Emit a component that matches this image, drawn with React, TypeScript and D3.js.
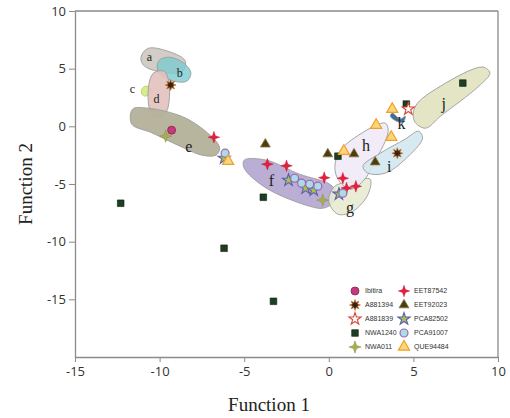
import React, { useEffect, useRef } from "react";
import * as d3 from "d3";

// series values: [Function 1, Function 2]
const ibitira = [[-9.29, -0.33]];
const a881394 = [[-9.35, 3.58], [4.05, -2.33]];
const a881839 = [[4.7, 1.5]];
const nwa1240 = [[-12.3, -6.67], [-6.19, -10.57], [-3.27, -15.17], [-3.87, -6.15], [0.54, -2.59], [4.58, 1.93], [7.92, 3.75]];
const nwa011 = [[-9.64, -0.85], [-0.36, -6.4]];
const eet87542 = [[-6.79, -0.94], [-3.63, -3.28], [-2.5, -3.42], [-0.27, -4.45], [0.83, -4.5], [1.05, -5.35], [1.6, -5.2]];
const eet92023 = [[-3.75, -1.55], [-0.06, -2.4], [1.49, -2.4], [2.74, -3.1]];
const pca82502 = [[-6.19, -2.76], [-2.38, -4.67], [-1.37, -5.36], [-0.89, -5.53], [0.6, -5.88]];
const pca91007 = [[-6.13, -2.33], [-2.02, -4.5], [-1.61, -4.93], [-1.13, -5.02], [-0.65, -5.19], [0.83, -5.8]];
const que94484 = [[-5.95, -3.02], [0.89, -2.15], [2.8, 0.1], [3.69, -0.94], [3.75, 1.49]];

// group outlines
const regionA = [[-11.1, 6.0], [-10.7, 6.75], [-9.7, 6.6], [-8.5, 5.7], [-8.65, 4.75], [-10.06, 4.75], [-10.95, 5.3]];
const regionB = [[-10.06, 5.66], [-9.46, 6.0], [-8.57, 5.49], [-8.15, 4.62], [-8.39, 3.92], [-9.17, 3.92], [-10.06, 4.62]];
const regionC = [[-11.01, 3.32], [-10.77, 3.49], [-10.54, 3.23], [-10.6, 2.8], [-10.89, 2.62], [-11.07, 2.88]];
const regionD = [[-10.36, 4.62], [-9.76, 4.79], [-9.46, 3.92], [-9.58, 1.32], [-10.06, 0.8], [-10.54, 1.32], [-10.65, 3.49]];
const regionE = [[-11.6, 1.49], [-10.83, 1.6], [-8.45, 0.71], [-6.67, -1.28], [-6.45, -1.95], [-6.67, -2.5], [-7.5, -2.5], [-8.45, -1.95], [-10.48, -0.55], [-11.65, 0.2]];
const regionF = [[-5.0, -2.93], [-3.69, -2.93], [-1.73, -4.15], [0.06, -5.02], [0.48, -5.8], [0.24, -6.67], [-0.36, -7.1], [-1.13, -6.93], [-3.69, -5.36], [-5.0, -3.63]];
const regionG = [[0.36, -5.19], [1.55, -4.76], [2.44, -4.58], [2.32, -5.89], [1.43, -7.36], [0.54, -7.62], [0.0, -6.49]];
const regionH = [[0.65, -2.15], [1.85, -0.68], [3.33, 0.28], [3.51, -0.42], [2.74, -3.02], [2.02, -4.76], [1.25, -5.45], [0.54, -4.58], [0.36, -3.45]];
const regionI = [[2.02, -3.45], [3.04, -2.33], [4.52, -1.11], [5.3, -0.42], [5.54, -1.02], [4.52, -2.85], [3.33, -4.06], [2.32, -4.06]];
const regionJ = [[5.12, 1.75], [6.61, 3.49], [9.11, 5.14], [9.52, 4.62], [8.87, 3.49], [6.61, 0.89], [5.71, -0.16], [5.06, 0.45]];
const regionK = [[3.75, 1.15], [4.23, 0.63], [4.52, 0.89], [4.4, 0.37], [3.99, 0.45], [3.63, 0.89]];

const regionNames = ["a", "b", "c", "d", "e", "f", "g", "h", "i", "j", "k"];
const regionLabelPos = [[-10.6, 5.9], [-8.81, 4.5], [-11.61, 3.14], [-10.18, 2.27], [-8.27, -1.9], [-3.39, -4.84], [1.25, -7.19], [2.2, -1.8], [3.57, -3.63], [6.79, 1.84], [4.29, 0.1]];

const xTicks = [-15, -10, -5, 0, 5, 10];
const yTicks = [-15, -10, -5, 0, 5, 10];

const star4 = {
  draw(ctx: any, size: number) {
    const r = Math.sqrt(size);
    for (let i = 0; i < 8; i++) {
      const a = (i * Math.PI) / 4 - Math.PI / 2;
      const rr = i % 2 ? r * 0.36 : r;
      if (i === 0) ctx.moveTo(rr * Math.cos(a), rr * Math.sin(a));
      else ctx.lineTo(rr * Math.cos(a), rr * Math.sin(a));
    }
    ctx.closePath();
  },
};

const burst8 = {
  draw(ctx: any, size: number) {
    const r = Math.sqrt(size);
    for (let i = 0; i < 16; i++) {
      const a = (i * Math.PI) / 8 - Math.PI / 2;
      const rr = i % 2 ? r * 0.5 : r;
      if (i === 0) ctx.moveTo(rr * Math.cos(a), rr * Math.sin(a));
      else ctx.lineTo(rr * Math.cos(a), rr * Math.sin(a));
    }
    ctx.closePath();
  },
};

export default function App() {
  const ref = useRef<SVGSVGElement>(null);

  useEffect(() => {
    const svg = d3.select(ref.current);
    svg.selectAll("*").remove();

    const x = d3.scaleLinear().domain([-15, 10]).range([75, 498]);
    const y = d3.scaleLinear().domain([-20, 10]).range([357, 11]);

    const regions = [
      { pts: regionA, fill: "#cdc9c1", op: 0.9 },
      { pts: regionB, fill: "#7ccbd0", op: 0.8 },
      { pts: regionC, fill: "#d6ec8e", op: 1 },
      { pts: regionD, fill: "#e3c1bc", op: 0.9 },
      { pts: regionE, fill: "#b3b199", op: 0.95 },
      { pts: regionF, fill: "#b2a5d0", op: 0.9 },
      { pts: regionG, fill: "#e8ebd2", op: 0.9 },
      { pts: regionH, fill: "#efeaf6", op: 0.9 },
      { pts: regionI, fill: "#d3e8ef", op: 0.9 },
      { pts: regionJ, fill: "#e2e4c2", op: 0.95 },
      { pts: regionK, fill: "#3d6c9c", op: 1 },
    ];

    const line = d3.line<number[]>()
      .x(d => x(d[0]))
      .y(d => y(d[1]))
      .curve(d3.curveCatmullRomClosed.alpha(0.5));

    svg.append("rect").attr("width", 510).attr("height", 418).attr("fill", "white");

    svg.selectAll("path.region")
      .data(regions)
      .enter()
      .append("path")
      .attr("class", "region")
      .attr("d", d => line(d.pts))
      .attr("fill", d => d.fill)
      .attr("fill-opacity", d => d.op)
      .attr("stroke", (d, i) => (i === 2 ? "#b5cc66" : "#9c9c9c"))
      .attr("stroke-width", 0.9);

    svg.selectAll("text.rlabel")
      .data(regionNames)
      .enter()
      .append("text")
      .attr("class", "rlabel")
      .attr("x", (d, i) => x(regionLabelPos[i][0]))
      .attr("y", (d, i) => y(regionLabelPos[i][1]))
      .attr("text-anchor", "middle")
      .attr("dominant-baseline", "middle")
      .attr("font-family", "'Liberation Serif', serif")
      .attr("font-size", d => ("abcd".includes(d) ? 12 : 16))
      .attr("fill", "#222")
      .text(d => d);

    const series = [
      { name: "NWA1240", pts: nwa1240, type: d3.symbolSquare, size: 44, fill: "#1f3d22", stroke: "#0f1f10", sw: 0.6 },
      { name: "EET92023", pts: eet92023, type: d3.symbolTriangle, size: 42, fill: "#4d3b12", stroke: "#8c7b45", sw: 0.8 },
      { name: "EET87542", pts: eet87542, type: star4, size: 34, fill: "#e2203f", stroke: "#c81030", sw: 0.4 },
      { name: "PCA82502", pts: pca82502, type: d3.symbolStar, size: 46, fill: "#a7c24c", stroke: "#5a5db2", sw: 1.1 },
      { name: "PCA91007", pts: pca91007, type: d3.symbolCircle, size: 50, fill: "#a9dbe9", stroke: "#a066ac", sw: 1.2 },
      { name: "QUE94484", pts: que94484, type: d3.symbolTriangle, size: 54, fill: "#f9d67c", stroke: "#f0a02c", sw: 1.2 },
      { name: "Ibitira", pts: ibitira, type: d3.symbolCircle, size: 50, fill: "#c43a7d", stroke: "#8c2050", sw: 0.8 },
      { name: "NWA011", pts: nwa011, type: star4, size: 38, fill: "#a6ad56", stroke: "#8d9242", sw: 0.5 },
      { name: "A881394", pts: a881394, type: burst8, size: 30, fill: "#3b2210", stroke: "#c87a38", sw: 0.7 },
      { name: "A881839", pts: a881839, type: d3.symbolStar, size: 46, fill: "white", stroke: "#d5493b", sw: 1.1 },
    ];

    series.forEach(s => {
      const sym = d3.symbol().type(s.type as any).size(s.size);
      svg.append("g")
        .selectAll("path")
        .data(s.pts)
        .enter()
        .append("path")
        .attr("d", sym as any)
        .attr("transform", d => `translate(${x(d[0])},${y(d[1])})`)
        .attr("fill", s.fill)
        .attr("stroke", s.stroke)
        .attr("stroke-width", s.sw);
    });

    // legend
    const legendOrder = ["Ibitira", "EET87542", "A881394", "EET92023", "A881839", "PCA82502", "NWA1240", "PCA91007", "NWA011", "QUE94484"];
    const lg = svg.append("g");
    legendOrder.forEach((name, i) => {
      const s = series.find(d => d.name === name)!;
      const col = i % 2;
      const row = Math.floor(i / 2);
      const lx = 355 + col * 49;
      const ly = 291 + row * 14;
      lg.append("path")
        .attr("d", d3.symbol().type(s.type as any).size(s.size)() as string)
        .attr("transform", `translate(${lx},${ly})`)
        .attr("fill", s.fill)
        .attr("stroke", s.stroke)
        .attr("stroke-width", s.sw);
      lg.append("text")
        .attr("x", lx + 10)
        .attr("y", ly)
        .attr("dominant-baseline", "middle")
        .attr("font-family", "'Liberation Sans', sans-serif")
        .attr("font-size", 7)
        .attr("fill", "#333")
        .text(name);
    });

    // frame + axes
    const frameColor = "#8a8a8a";
    svg.append("line").attr("x1", 75).attr("x2", 498).attr("y1", 11).attr("y2", 11).attr("stroke", frameColor).attr("stroke-width", 1.3);
    svg.append("line").attr("x1", 498).attr("x2", 498).attr("y1", 11).attr("y2", 357).attr("stroke", frameColor).attr("stroke-width", 1.3);

    const xAxis = svg.append("g")
      .attr("transform", "translate(0,357)")
      .call(d3.axisBottom(x).tickValues(xTicks).tickFormat(d => String(d)).tickSize(5).tickPadding(5).tickSizeOuter(0));
    const yAxis = svg.append("g")
      .attr("transform", "translate(75,0)")
      .call(d3.axisLeft(y).tickValues(yTicks).tickFormat(d => String(d)).tickSize(6).tickPadding(3).tickSizeOuter(0));

    [xAxis, yAxis].forEach(ax => {
      ax.select(".domain").attr("stroke", frameColor).attr("stroke-width", 1.3);
      ax.selectAll(".tick line").attr("stroke", frameColor);
      ax.selectAll(".tick text")
        .attr("font-family", "'Open Sans', 'Liberation Sans', sans-serif")
        .attr("font-size", 13)
        .attr("fill", "#333");
    });

    svg.append("text")
      .attr("x", 269)
      .attr("y", 411)
      .attr("text-anchor", "middle")
      .attr("font-family", "'Liberation Serif', serif")
      .attr("font-size", 19)
      .attr("fill", "#222")
      .text("Function 1");

    svg.append("text")
      .attr("transform", "translate(32,184) rotate(-90)")
      .attr("text-anchor", "middle")
      .attr("font-family", "'Liberation Serif', serif")
      .attr("font-size", 19)
      .attr("fill", "#222")
      .text("Function 2");
  }, []);

  return (
    <svg
      ref={ref}
      width={510}
      height={418}
      style={{ position: "absolute", left: 0, top: 0, display: "block" }}
    />
  );
}
